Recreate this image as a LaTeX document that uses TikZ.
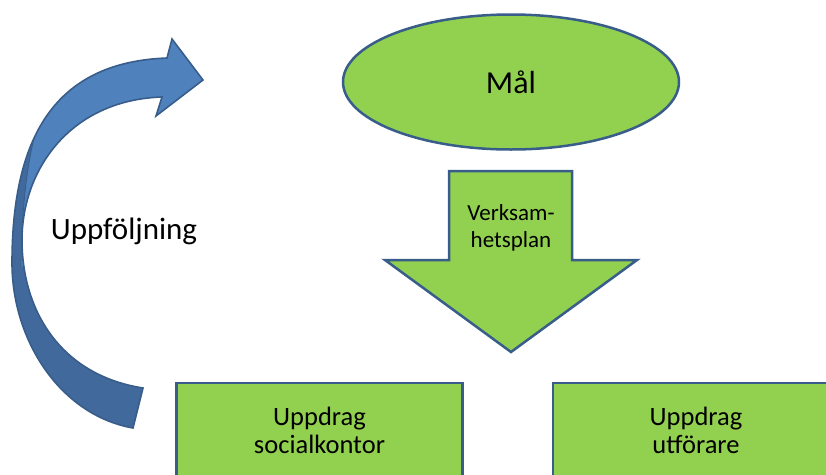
\documentclass[tikz,border=0pt]{standalone}
\usepackage{fontspec}
\setmainfont{Carlito}
\usetikzlibrary{shapes.geometric}
\definecolor{leaf}{HTML}{92D050}
\definecolor{rim}{HTML}{385D8A}
\definecolor{bluefront}{HTML}{4F81BD}
\definecolor{blueback}{HTML}{41699C}
\tikzset{
  greenshape/.style={fill=leaf, draw=rim, line width=2.5pt},
  taskbox/.style={greenshape, rectangle, minimum width=286pt, minimum height=94pt,
    align=center, inner sep=0pt, font=\fontsize{26.5}{28}\selectfont},
  label/.style={inner sep=0pt, align=center}
}
\begin{document}
\begin{tikzpicture}[x=1pt, y=-1pt]
  \useasboundingbox (0,0) rectangle (826,474);
  \clip (0,0) rectangle (826,474);

  % goal ellipse
  \node[greenshape, ellipse, minimum width=336pt, minimum height=135pt, inner sep=0pt,
        font=\fontsize{32}{36}\selectfont] (goal) at (511,82) {Mål};

  % downward block arrow with the plan label
  \draw[greenshape] (449,171) -- (572,171) -- (572,260) -- (637,260) -- (511,352)
        -- (385,260) -- (449,260) -- cycle;
  \node[label, font=\fontsize{23}{26.6}\selectfont] (plan) at (511,228) {Verksam-\\hetsplan};

  % the two assignment boxes
  \node[taskbox] (social) at (319.5,430) {Uppdrag\\socialkontor};
  \node[taskbox] (provider) at (696,430) {Uppdrag\\utförare};

  % curved follow-up arrow
  \def\followup{(133,428) .. controls (60,415) and (12,340) .. (12,263)
      .. controls (12,130) and (60,62) .. (167,58)
      -- (172,39) -- (203,80) -- (156,116) -- (162,97)
      .. controls (70,100) and (22,170) .. (22,240)
      .. controls (22,310) and (60,375) .. (143,388) -- cycle}
  \fill[blueback] \followup;
  \begin{scope}
    \clip (21,266) .. controls (22,200) and (28,150) .. (42,112) -- (42,0)
          -- (260,0) -- (260,266) -- cycle;
    \fill[bluefront] \followup;
  \end{scope}
  \begin{scope}
    \clip \followup;
    \draw[rim, line width=0.8pt] (21,266) .. controls (22,200) and (28,150) .. (42,112);
  \end{scope}
  \draw[rim, line width=1.6pt, line join=miter] \followup;

  \node[label, font=\fontsize{31}{35}\selectfont] (followlabel) at (124,231) {Uppföljning};
\end{tikzpicture}
\end{document}
